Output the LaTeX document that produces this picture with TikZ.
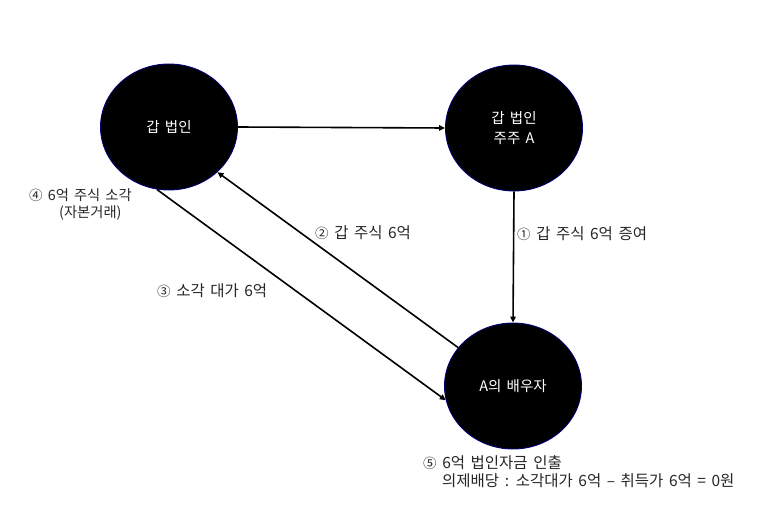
\documentclass[tikz,border=0pt]{standalone}
\usepackage{fontspec}
\setmainfont[WordSpace=1.6]{Noto Sans CJK KR}
\usetikzlibrary{shapes.geometric,arrows.meta}
\newcommand{\cnum}[1]{{\fontsize{13.5}{13.5}\selectfont #1}}
\begin{document}
\begin{tikzpicture}[x=1pt,y=-1pt,
  party/.style={ellipse,draw=blue!45!black,line width=0.9pt,fill=black,
    minimum width=137pt,minimum height=126pt,inner sep=0pt,
    text=white,font=\fontsize{14.5}{20}\selectfont,align=center},
  flow/.style={line width=1.6pt,-{Triangle[length=6pt,width=5.5pt]}},
  lbl/.style={anchor=west,inner sep=0pt,text=black!85,font=\fontsize{15.5}{18}\selectfont},
  lblsmall/.style={lbl,font=\fontsize{14.3}{16}\selectfont}]
\useasboundingbox (0,0) rectangle (773,516);
\node[party] (c1) at (169,127) {갑 법인};
\node[party] (c2) at (514,128) {갑 법인\\주주 A};
\node[party] (c3) at (513,386) {A의 배우자};
\draw[flow] (c1.east) -- (c2.west);
\draw[flow] (c2.south) -- (c3.north);
\draw[flow] (c3.145) -- (c1.317);
\draw[flow] (c1.259) -- (c3.192);
\node[lblsmall] (l4a) at (29,195) {\cnum{④} 6억 주식 소각};
\node[lblsmall] (l4b) at (59,213) {(자본거래)};
\node[lbl] (l2) at (315,233) {\cnum{②} 갑 주식 6억};
\node[lbl] (l3) at (157,291) {\cnum{③} 소각 대가 6억};
\node[lbl] (l1) at (517,234) {\cnum{①} 갑 주식 6억 증여};
\node[lbl] (l5a) at (423,463) {\cnum{⑤} 6억 법인자금 인출};
\node[lbl] (l5b) at (442,481) {의제배당 : 소각대가 6억 – 취득가 6억 = 0원};
\end{tikzpicture}
\end{document}
